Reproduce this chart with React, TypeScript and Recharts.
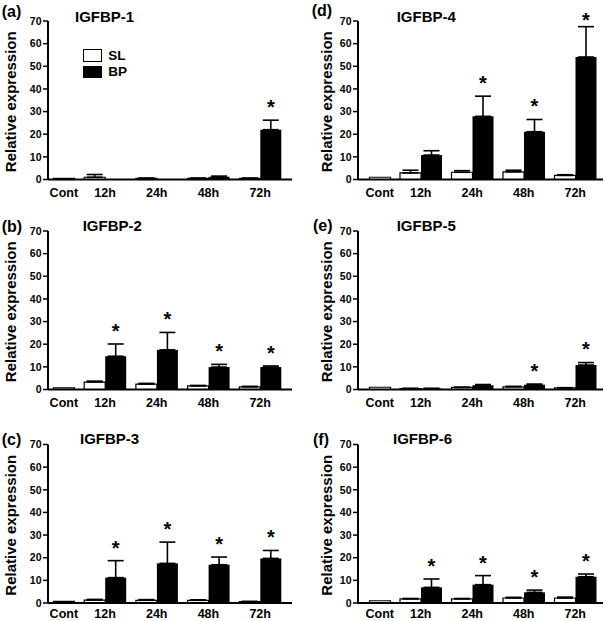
import React from 'react';
import { BarChart, Bar, XAxis, YAxis, ErrorBar, LabelList, Label, Legend } from 'recharts';

// ---------- data ----------
const categories = ['Cont', '12h', '24h', '48h', '72h'];
const yTicks = [0, 10, 20, 30, 40, 50, 60, 70];
const seriesNames = ['SL', 'BP'];

const igfbp1Control = 0.5;
const igfbp1SL = [1.0, 0.5, 0.5, 0.5];
const igfbp1SLErr = [1.2, 0.1, 0.1, 0.1];
const igfbp1BP = [0.1, 0.05, 1.2, 22.0];
const igfbp1BPErr = [0, 0, 0.3, 4.2];
const igfbp1Sig = [false, false, false, true];

const igfbp2Control = 0.7;
const igfbp2SL = [3.3, 2.4, 1.6, 1.2];
const igfbp2SLErr = [0.4, 0.3, 0.2, 0.2];
const igfbp2BP = [14.7, 17.5, 9.9, 9.9];
const igfbp2BPErr = [5.4, 7.7, 1.2, 0.5];
const igfbp2Sig = [true, true, true, true];

const igfbp3Control = 0.7;
const igfbp3SL = [1.3, 1.2, 1.2, 0.6];
const igfbp3SLErr = [0.3, 0.3, 0.2, 0.1];
const igfbp3BP = [11.2, 17.5, 16.9, 19.7];
const igfbp3BPErr = [7.5, 9.4, 3.4, 3.5];
const igfbp3Sig = [true, true, true, true];

const igfbp4Control = 1.0;
const igfbp4SL = [2.9, 3.2, 3.4, 1.8];
const igfbp4SLErr = [1.2, 0.7, 0.7, 0.3];
const igfbp4BP = [10.8, 27.9, 21.1, 54.1];
const igfbp4BPErr = [1.9, 8.9, 5.4, 13.4];
const igfbp4Sig = [false, true, true, true];

const igfbp5Control = 1.0;
const igfbp5SL = [0.4, 0.9, 1.2, 0.7];
const igfbp5SLErr = [0.1, 0.1, 0.2, 0.1];
const igfbp5BP = [0.4, 1.9, 2.1, 10.8];
const igfbp5BPErr = [0.1, 0.3, 0.3, 1.1];
const igfbp5Sig = [false, false, true, true];

const igfbp6Control = 1.0;
const igfbp6SL = [1.8, 1.8, 2.2, 2.2];
const igfbp6SLErr = [0.2, 0.2, 0.3, 0.4];
const igfbp6BP = [6.9, 8.1, 4.7, 11.6];
const igfbp6BPErr = [3.7, 4.0, 1.0, 1.2];
const igfbp6Sig = [true, true, true, true];

// ---------- styling / layout ----------
const FONT = '"Liberation Sans", Arial, Helvetica, sans-serif';
const BAR_SIZE = 21;
const PLOT_H = 158.5;
const Y_AXIS_W = 48;
const STAR_FS = 20;

const columns: Record<string, any> = {
  left: { chartLeft: 0, chartWidth: 300, marginRight: 8, padLeft: -20.5, padRight: 6, yLabelGap: 32 },
  right: { chartLeft: 310, chartWidth: 295, marginRight: 2, padLeft: -14.5, padRight: 2, yLabelGap: 25.6 },
};
// chart top, top margin (plot top = sum), x-axis band height, tick label margin
const rowsLayout = [
  { top: 0, marginTop: 21, xAxisH: 30, tickMargin: 2.5 },
  { top: 210, marginTop: 21, xAxisH: 30, tickMargin: 2.5 },
  { top: 431, marginTop: 13.5, xAxisH: 18, tickMargin: 0 },
];

type Panel = {
  letter: string; title: string; control: number;
  sl: number[]; slErr: number[]; bp: number[]; bpErr: number[]; sig: boolean[];
  col: 'left' | 'right'; row: number; legend?: boolean;
  letterPos: [number, number]; titlePos: [number, number];
};

const panels: Panel[] = [
  { letter: '(a)', title: 'IGFBP-1', control: igfbp1Control, sl: igfbp1SL, slErr: igfbp1SLErr, bp: igfbp1BP, bpErr: igfbp1BPErr, sig: igfbp1Sig, col: 'left', row: 0, legend: true, letterPos: [1.7, 3.7], titlePos: [75, 9.2] },
  { letter: '(b)', title: 'IGFBP-2', control: igfbp2Control, sl: igfbp2SL, slErr: igfbp2SLErr, bp: igfbp2BP, bpErr: igfbp2BPErr, sig: igfbp2Sig, col: 'left', row: 1, letterPos: [1.7, 218.7], titlePos: [82.7, 218.2] },
  { letter: '(c)', title: 'IGFBP-3', control: igfbp3Control, sl: igfbp3SL, slErr: igfbp3SLErr, bp: igfbp3BP, bpErr: igfbp3BPErr, sig: igfbp3Sig, col: 'left', row: 2, letterPos: [1.7, 432.2], titlePos: [80, 430.8] },
  { letter: '(d)', title: 'IGFBP-4', control: igfbp4Control, sl: igfbp4SL, slErr: igfbp4SLErr, bp: igfbp4BP, bpErr: igfbp4BPErr, sig: igfbp4Sig, col: 'right', row: 0, letterPos: [311.7, 3.2], titlePos: [396.7, 9.2] },
  { letter: '(e)', title: 'IGFBP-5', control: igfbp5Control, sl: igfbp5SL, slErr: igfbp5SLErr, bp: igfbp5BP, bpErr: igfbp5BPErr, sig: igfbp5Sig, col: 'right', row: 1, letterPos: [313, 217.7], titlePos: [396.7, 218.2] },
  { letter: '(f)', title: 'IGFBP-6', control: igfbp6Control, sl: igfbp6SL, slErr: igfbp6SLErr, bp: igfbp6BP, bpErr: igfbp6BPErr, sig: igfbp6Sig, col: 'right', row: 2, letterPos: [313, 432.2], titlePos: [393, 430.8] },
];

const buildRows = (p: Panel) =>
  categories.map((cat, i) =>
    i === 0
      ? { cat, ctrl: p.control, sl: null, slErr: null, bp: null, bpErr: null, sig: false }
      : { cat, ctrl: null, sl: p.sl[i - 1], slErr: p.slErr[i - 1], bp: p.bp[i - 1], bpErr: p.bpErr[i - 1], sig: p.sig[i - 1] }
  );

const upperErr = (key: string) => (d: any) => {
  const r = d && d.payload ? d.payload : d;
  const e = r ? r[key] : null;
  return e == null || e === 0 ? null : [0, e];
};

const makeStar = (rows: any[], plotTop: number) => (props: any) => {
  const vb = props.viewBox && props.viewBox.width != null ? props.viewBox : props;
  const { x, y, width, height } = vb;
  const row = rows.find((r) => r.cat === props.value);
  if (!row || !row.sig || !row.bp) return null;
  const ppu = height / row.bp;
  const errTop = y - (row.bpErr || 0) * ppu;
  const cy = Math.max(errTop - 17.5, plotTop - 5);
  return (
    <text x={x + width / 2} y={cy + 0.57 * STAR_FS} textAnchor="middle" fontSize={STAR_FS}
      fontWeight="bold" fontFamily={FONT} fill="#000">*</text>
  );
};

const XTick = (props: any) => {
  const { x, y, payload } = props;
  const shift = payload.value === categories[0] ? BAR_SIZE / 2 : 0;
  return (
    <text x={x + shift} y={y} dy="0.71em" textAnchor="middle" fontSize={12.5} fontWeight="bold"
      fontFamily={FONT} fill="#000">{payload.value}</text>
  );
};

const LegendContent = () => (
  <div style={{ fontFamily: FONT, fontWeight: 'bold', fontSize: 13.5, color: '#000' }}>
    {seriesNames.map((name, i) => (
      <div key={name} style={{ display: 'flex', alignItems: 'center', height: 16.5 }}>
        <span style={{ display: 'inline-block', width: 19, height: 12.5, boxSizing: 'border-box', border: '1.5px solid #000', background: i === 0 ? '#fff' : '#000', marginRight: 6.5 }} />
        <span style={{ lineHeight: 1 }}>{name}</span>
      </div>
    ))}
  </div>
);

const PanelChart = ({ p }: { p: Panel }) => {
  const col = columns[p.col];
  const lay = rowsLayout[p.row];
  const rows = buildRows(p);
  const chartH = lay.marginTop + PLOT_H + lay.xAxisH;
  const yLabel = (lp: any) => {
    const vb = lp.viewBox;
    const bx = vb.x + vb.width - col.yLabelGap;
    const cy = vb.y + vb.height / 2 + 1.5;
    return (
      <text x={bx} y={cy} transform={`rotate(-90, ${bx}, ${cy})`} textAnchor="middle" fontSize={15}
        fontWeight="bold" fontFamily={FONT} fill="#000">Relative expression</text>
    );
  };
  return (
    <div style={{ position: 'absolute', left: col.chartLeft, top: lay.top }}>
      <BarChart width={col.chartWidth} height={chartH} data={rows} barSize={BAR_SIZE} barGap={0}
        style={{ overflow: 'visible' }}
        margin={{ top: lay.marginTop, right: col.marginRight, bottom: 0, left: 0 }}>
        <XAxis dataKey="cat" interval={0} tickLine={false} tickSize={6} tickMargin={lay.tickMargin} height={lay.xAxisH}
          axisLine={{ stroke: '#000', strokeWidth: 2 }} tick={<XTick />}
          padding={{ left: col.padLeft, right: col.padRight }} />
        <YAxis domain={[0, 70]} ticks={yTicks} interval={0} width={Y_AXIS_W} tickSize={5} tickMargin={1.5}
          axisLine={{ stroke: '#000', strokeWidth: 2 }} tickLine={{ stroke: '#000', strokeWidth: 1.5 }}
          tick={{ fontSize: 10.5, fontWeight: 'bold', fill: '#000', fontFamily: FONT }}>
          <Label content={yLabel} />
        </YAxis>
        {p.legend && (
          <Legend layout="vertical" align="center" verticalAlign="middle" content={<LegendContent />}
            wrapperStyle={{ top: 47.3, left: 82.7, width: 60, height: 34 }} />
        )}
        <Bar dataKey="sl" name={seriesNames[0]} stackId="a" fill="#fff" stroke="#000" strokeWidth={1.2} isAnimationActive={false}>
          <ErrorBar dataKey={upperErr('slErr')} width={8} stroke="#000" strokeWidth={1.6} direction="y" isAnimationActive={false} />
        </Bar>
        <Bar dataKey="bp" name={seriesNames[1]} stackId="b" fill="#000" isAnimationActive={false}>
          <ErrorBar dataKey={upperErr('bpErr')} width={8} stroke="#000" strokeWidth={1.6} direction="y" isAnimationActive={false} />
          <LabelList dataKey="cat" content={makeStar(rows, lay.marginTop)} />
        </Bar>
        <Bar dataKey="ctrl" name="Cont" stackId="b" fill="#fff" stroke="#000" strokeWidth={1.2} isAnimationActive={false} />
      </BarChart>
    </div>
  );
};

const textStyle = (x: number, y: number, fs: number): React.CSSProperties => ({
  position: 'absolute', left: x, top: y, fontSize: fs, lineHeight: 1, fontWeight: 'bold',
  fontFamily: FONT, color: '#000', whiteSpace: 'nowrap',
});

export default function App() {
  return (
    <div style={{ position: 'absolute', left: 0, top: 0, width: 605, height: 621, overflow: 'hidden', background: '#fff' }}>
      {panels.map((p) => (
        <PanelChart key={p.letter} p={p} />
      ))}
      {panels.map((p) => (
        <React.Fragment key={p.letter + 't'}>
          <div style={textStyle(p.letterPos[0], p.letterPos[1], 16)}>{p.letter}</div>
          <div style={textStyle(p.titlePos[0], p.titlePos[1], 15)}>{p.title}</div>
        </React.Fragment>
      ))}
    </div>
  );
}
